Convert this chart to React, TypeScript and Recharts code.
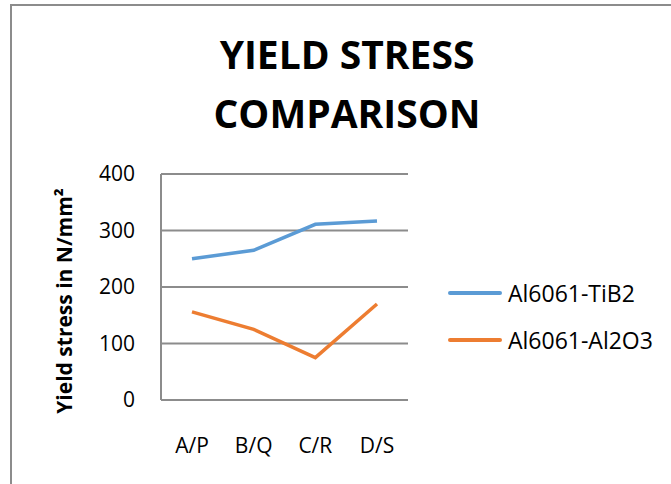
import { LineChart, Line, XAxis, YAxis, CartesianGrid, Legend, Label } from "recharts";

const categories = ["A/P", "B/Q", "C/R", "D/S"];
const tib2 = [250, 265, 311, 317];
const al2o3 = [156, 125, 75, 170];
const yTicks = [0, 100, 200, 300, 400];
const seriesNames = ["Al6061-TiB2", "Al6061-Al2O3"];

const data = categories.map((name, i) => ({
  name,
  [seriesNames[0]]: tib2[i],
  [seriesNames[1]]: al2o3[i],
}));

const FONT = "'Open Sans', sans-serif";
const GRID = "#8c8c8c";

const renderLegend = (props: any) => {
  const items = [...props.payload].sort(
    (a: any, b: any) => seriesNames.indexOf(a.value) - seriesNames.indexOf(b.value)
  );
  return (
    <div>
      {items.map((entry: any) => (
        <div key={entry.value} style={{ display: "flex", alignItems: "center", height: 47 }}>
          <span style={{ width: 54, height: 4, background: entry.color, marginRight: 6, borderRadius: 2 }} />
          <span style={{ fontFamily: FONT, fontSize: 23, color: "#000" }}>{entry.value}</span>
        </div>
      ))}
    </div>
  );
};

const YLabel = (props: any) => {
  const { viewBox } = props;
  const cx = 64;
  const cy = viewBox.y + viewBox.height / 2 + 14;
  return (
    <text
      x={cx}
      y={cy}
      transform={`rotate(-90, ${cx}, ${cy})`}
      textAnchor="middle"
      dominantBaseline="central"
      style={{ fontFamily: FONT, fontSize: 21, fontWeight: 700, fill: "#000" }}
    >
      Yield stress in N/mm²
    </text>
  );
};

export default function App() {
  return (
    <div style={{ position: "fixed", left: 0, top: 0, width: 671, height: 484, background: "#fff", overflow: "hidden" }}>
      <div
        style={{
          position: "absolute",
          left: 10,
          top: 4,
          width: 720,
          height: 540,
          border: `2px solid ${GRID}`,
          boxSizing: "border-box",
        }}
      />
      <svg width={671} height={150} style={{ position: "absolute", left: 0, top: 0 }}>
        <text x={347} y={69} textAnchor="middle" style={{ fontFamily: FONT, fontSize: 39, fontWeight: 700, fill: "#000" }}>
          YIELD STRESS
        </text>
        <text x={347} y={128} textAnchor="middle" style={{ fontFamily: FONT, fontSize: 39, fontWeight: 700, fill: "#000" }}>
          COMPARISON
        </text>
      </svg>
      <div style={{ position: "absolute", left: 0, top: 0 }}>
        <LineChart width={671} height={484} data={data} margin={{ top: 174, right: 263, bottom: 24, left: 0 }}>
          <CartesianGrid vertical={false} stroke={GRID} strokeWidth={2} />
          <XAxis
            dataKey="name"
            height={60}
            padding={{ left: 31, right: 31 }}
            tickLine={false}
            tickSize={0}
            tickMargin={38}
            axisLine={{ stroke: GRID, strokeWidth: 2 }}
            tick={{ fontFamily: FONT, fontSize: 21, fill: "#000" }}
          />
          <YAxis
            width={161}
            domain={[0, 400]}
            ticks={yTicks}
            interval={0}
            tickLine={false}
            tickSize={0}
            tickMargin={26}
            axisLine={{ stroke: GRID, strokeWidth: 2 }}
            tick={{ fontFamily: FONT, fontSize: 21, fill: "#000" }}
          >
            <Label content={<YLabel />} />
          </YAxis>
          <Legend
            layout="vertical"
            align="center"
            verticalAlign="middle"
            content={renderLegend}
            wrapperStyle={{ left: 448, top: 269, width: 220 }}
          />
          <Line
            dataKey={seriesNames[0]}
            stroke="#5b9bd5"
            strokeWidth={3.5}
            dot={false}
            isAnimationActive={false}
          />
          <Line
            dataKey={seriesNames[1]}
            stroke="#ed7d31"
            strokeWidth={3.5}
            dot={false}
            isAnimationActive={false}
          />
        </LineChart>
      </div>
    </div>
  );
}
